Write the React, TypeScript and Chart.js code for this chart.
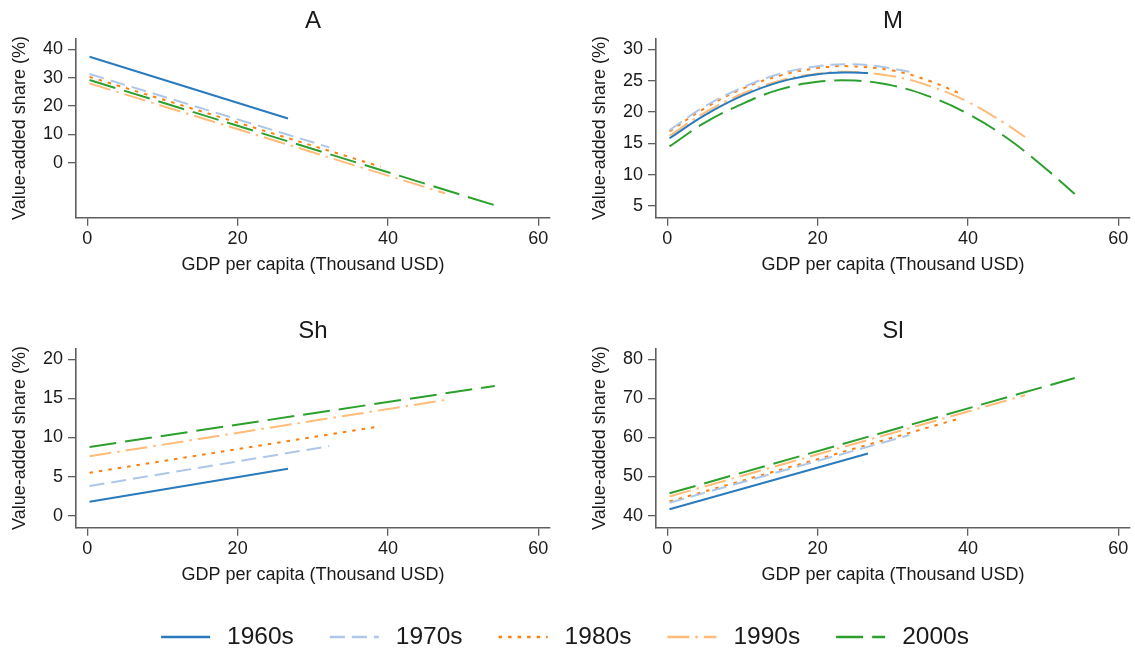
import { useEffect, useRef } from 'react';
import { Chart, registerables } from 'chart.js';

Chart.register(...registerables);

// Decades and their line styles
const DECADES = ['1960s', '1970s', '1980s', '1990s', '2000s'];
const LINE_COLORS = ['#2a7bbd', '#aec7e8', '#ff7f0e', '#ffbb78', '#2ca02c'];
const LINE_DASHES: number[][] = [[], [15, 7], [3.5, 6], [22, 6, 2.5, 6], [27, 9]];

// GDP per capita (thousand USD) range covered by each decade's fitted line
const GDP_1960S = [0.3, 26.7];
const GDP_1970S = [0.3, 32.2];
const GDP_1980S = [0.3, 39.0];
const GDP_1990S = [0.3, 47.6];
const GDP_2000S = [0.3, 54.2];

// Agriculture (A) value-added share, %
const A_1960S = [37.4, 15.6];
const A_1970S = [31.3, 5.4];
const A_1980S = [30.3, -1.4];
const A_1990S = [28.0, -10.8];
const A_2000S = [29.2, -15.0];

// Manufacturing (M) value-added share, % (quadratic fit, sampled along GDP)
const M_GDP_1960S = [0.3, 5, 10, 15, 20, 24, 26.7];
const M_1960S = [15.8, 19.5, 22.6, 24.8, 26.0, 26.3, 26.2];
const M_GDP_1970S = [0.3, 5, 10, 15, 20, 24, 28, 32.2];
const M_1970S = [17.1, 20.9, 23.9, 26.1, 27.3, 27.6, 27.3, 26.4];
const M_GDP_1980S = [0.3, 5, 10, 15, 20, 24, 30, 35, 39.0];
const M_1980S = [16.9, 20.6, 23.7, 25.8, 27.0, 27.3, 26.6, 24.9, 22.9];
const M_GDP_1990S = [0.3, 5, 10, 15, 20, 24, 30, 35, 40, 45, 47.6];
const M_1990S = [16.2, 19.9, 22.9, 25.0, 26.1, 26.4, 25.7, 24.1, 21.6, 18.1, 16.0];
const M_GDP_2000S = [0.3, 5, 10, 15, 20, 25, 30, 35, 40, 45, 50, 54.2];
const M_2000S = [14.5, 18.3, 21.3, 23.6, 24.8, 25.0, 24.2, 22.4, 19.7, 16.0, 11.3, 6.9];

// Skilled services (Sh) value-added share, %
const SH_1960S = [1.8, 6.0];
const SH_1970S = [3.8, 8.9];
const SH_1980S = [5.5, 11.45];
const SH_1990S = [7.6, 14.8];
const SH_2000S = [8.8, 16.6];

// Other services (Sl) value-added share, %
const SL_1960S = [41.6, 55.9];
const SL_1970S = [43.3, 60.6];
const SL_1980S = [43.6, 64.9];
const SL_1990S = [44.9, 70.8];
const SL_2000S = [45.7, 75.2];

// Tick labels
const X_TICKS = [0, 20, 40, 60];
const A_TICKS = [0, 10, 20, 30, 40];
const M_TICKS = [5, 10, 15, 20, 25, 30];
const SH_TICKS = [0, 5, 10, 15, 20];
const SL_TICKS = [40, 50, 60, 70, 80];

const FONT = '"Liberation Sans", Arial, sans-serif';
const TEXT = '#1a1a1a';
const AXIS = '#5f5f5f';

type Series = { x: number[]; y: number[] };

type PanelSpec = {
  title: string;
  left: number;
  top: number;
  width: number;
  series: Series[];
  yMin: number;
  yMax: number;
  yTicks: number[];
  tension: number;
};

const PANEL_HEIGHT = 290;
const Y_AXIS_WIDTH = 76;
const X_AXIS_HEIGHT = 62;
const PLOT_WIDTH = 474;

function Panel({ spec }: { spec: PanelSpec }) {
  const ref = useRef<HTMLCanvasElement | null>(null);
  useEffect(() => {
    if (!ref.current) return;
    const datasets = spec.series.map((s, i) => ({
      label: DECADES[i],
      data: s.x.map((x, k) => ({ x, y: s.y[k] })),
      borderColor: LINE_COLORS[i],
      backgroundColor: LINE_COLORS[i],
      borderDash: LINE_DASHES[i],
      borderWidth: 2,
      pointRadius: 0,
      fill: false,
      tension: spec.tension,
    }));
    const chart = new Chart(ref.current, {
      type: 'line',
      data: { datasets },
      options: {
        animation: false,
        responsive: false,
        events: [],
        layout: {
          padding: {
            left: 0,
            top: 0,
            right: spec.width - Y_AXIS_WIDTH - PLOT_WIDTH,
            bottom: PANEL_HEIGHT - 38.3 - 179.4 - X_AXIS_HEIGHT,
          },
        },
        plugins: {
          legend: { display: false },
          tooltip: { enabled: false },
          title: {
            display: true,
            text: spec.title,
            fullSize: false,
            color: TEXT,
            font: { family: FONT, size: 24, weight: 'normal' },
            padding: { top: 7.3, bottom: 2.2 },
          },
        },
        scales: {
          x: {
            type: 'linear',
            min: -1.5,
            max: 61.55,
            afterBuildTicks: (s: any) => {
              s.ticks = X_TICKS.map((value) => ({ value }));
            },
            afterFit: (s: any) => {
              s.height = X_AXIS_HEIGHT;
            },
            grid: {
              display: true,
              drawOnChartArea: false,
              drawTicks: true,
              tickLength: 8,
              color: AXIS,
              lineWidth: 1.3,
            },
            border: { display: true, color: AXIS, width: 1.6 },
            ticks: {
              color: TEXT,
              font: { family: FONT, size: 18 },
              padding: 3,
              maxRotation: 0,
              autoSkip: false,
            },
            title: {
              display: true,
              text: 'GDP per capita (Thousand USD)',
              color: TEXT,
              font: { family: FONT, size: 18 },
              padding: { top: 0, bottom: 3.9 },
            },
          },
          y: {
            type: 'linear',
            min: spec.yMin,
            max: spec.yMax,
            afterBuildTicks: (s: any) => {
              s.ticks = spec.yTicks.map((value) => ({ value }));
            },
            afterFit: (s: any) => {
              s.width = Y_AXIS_WIDTH;
            },
            grid: {
              display: true,
              drawOnChartArea: false,
              drawTicks: true,
              tickLength: 8,
              color: AXIS,
              lineWidth: 1.3,
            },
            border: { display: true, color: AXIS, width: 1.6 },
            ticks: {
              color: TEXT,
              font: { family: FONT, size: 18 },
              padding: 5,
            },
            title: {
              display: true,
              text: 'Value-added share (%)',
              color: TEXT,
              font: { family: FONT, size: 18 },
              padding: { top: 9.2, bottom: 0 },
            },
          },
        },
      },
    });
    return () => chart.destroy();
  }, [spec]);
  return (
    <canvas
      ref={ref}
      width={spec.width}
      height={PANEL_HEIGHT}
      style={{ position: 'absolute', left: spec.left, top: spec.top }}
    />
  );
}

// Shared legend: one row of line samples and decade labels, centred under the panels
const LEGEND_LINE = 49;
const LEGEND_GAP = 17;
const LEGEND_SPACING = 36;
const LEGEND_FONT_SIZE = 24.5;
const LEGEND_CENTER_X = 565;

const sharedLegend = {
  id: 'sharedLegend',
  afterDraw(chart: any) {
    const ctx: CanvasRenderingContext2D = chart.ctx;
    const items = chart.data.datasets as any[];
    const y = chart.height / 2;
    ctx.save();
    ctx.font = `${LEGEND_FONT_SIZE}px ${FONT}`;
    const widths = items.map((d) => ctx.measureText(d.label).width);
    const total =
      widths.reduce((acc, w) => acc + LEGEND_LINE + LEGEND_GAP + w, 0) +
      LEGEND_SPACING * (items.length - 1);
    let x = LEGEND_CENTER_X - total / 2;
    items.forEach((d, i) => {
      ctx.beginPath();
      ctx.setLineDash(d.borderDash);
      ctx.strokeStyle = d.borderColor;
      ctx.lineWidth = d.borderWidth;
      ctx.moveTo(x, y);
      ctx.lineTo(x + LEGEND_LINE, y);
      ctx.stroke();
      ctx.setLineDash([]);
      ctx.fillStyle = TEXT;
      ctx.textBaseline = 'middle';
      ctx.textAlign = 'left';
      ctx.fillText(d.label, x + LEGEND_LINE + LEGEND_GAP, y);
      x += LEGEND_LINE + LEGEND_GAP + widths[i] + LEGEND_SPACING;
    });
    ctx.restore();
  },
};

function Legend() {
  const ref = useRef<HTMLCanvasElement | null>(null);
  useEffect(() => {
    if (!ref.current) return;
    const chart = new Chart(ref.current, {
      type: 'line',
      data: {
        datasets: DECADES.map((label, i) => ({
          label,
          data: [],
          borderColor: LINE_COLORS[i],
          backgroundColor: LINE_COLORS[i],
          borderDash: LINE_DASHES[i],
          borderWidth: 2.5,
        })),
      },
      options: {
        animation: false,
        responsive: false,
        events: [],
        scales: { x: { display: false }, y: { display: false } },
        plugins: {
          tooltip: { enabled: false },
          legend: { display: false },
        },
      },
      plugins: [sharedLegend],
    });
    return () => chart.destroy();
  }, []);
  return (
    <canvas
      ref={ref}
      width={1135}
      height={54}
      style={{ position: 'absolute', left: 0, top: 610 }}
    />
  );
}

const PANELS: PanelSpec[] = [
  {
    title: 'A',
    left: 0,
    top: 0,
    width: 560,
    series: [
      { x: GDP_1960S, y: A_1960S },
      { x: GDP_1970S, y: A_1970S },
      { x: GDP_1980S, y: A_1980S },
      { x: GDP_1990S, y: A_1990S },
      { x: GDP_2000S, y: A_2000S },
    ],
    yMin: -19.4,
    yMax: 43.9,
    yTicks: A_TICKS,
    tension: 0,
  },
  {
    title: 'M',
    left: 580,
    top: 0,
    width: 555,
    series: [
      { x: M_GDP_1960S, y: M_1960S },
      { x: M_GDP_1970S, y: M_1970S },
      { x: M_GDP_1980S, y: M_1980S },
      { x: M_GDP_1990S, y: M_1990S },
      { x: M_GDP_2000S, y: M_2000S },
    ],
    yMin: 3.13,
    yMax: 31.75,
    yTicks: M_TICKS,
    tension: 0.4,
  },
  {
    title: 'Sh',
    left: 0,
    top: 310,
    width: 560,
    series: [
      { x: GDP_1960S, y: SH_1960S },
      { x: GDP_1970S, y: SH_1970S },
      { x: GDP_1980S, y: SH_1980S },
      { x: GDP_1990S, y: SH_1990S },
      { x: GDP_2000S, y: SH_2000S },
    ],
    yMin: -1.53,
    yMax: 21.41,
    yTicks: SH_TICKS,
    tension: 0,
  },
  {
    title: 'Sl',
    left: 580,
    top: 310,
    width: 555,
    series: [
      { x: GDP_1960S, y: SL_1960S },
      { x: GDP_1970S, y: SL_1970S },
      { x: GDP_1980S, y: SL_1980S },
      { x: GDP_1990S, y: SL_1990S },
      { x: GDP_2000S, y: SL_2000S },
    ],
    yMin: 36.9,
    yMax: 82.8,
    yTicks: SL_TICKS,
    tension: 0,
  },
];

export default function App() {
  return (
    <div
      style={{
        position: 'absolute',
        left: 0,
        top: 0,
        width: 1135,
        height: 654,
        background: '#ffffff',
        overflow: 'hidden',
      }}
    >
      {PANELS.map((p) => (
        <Panel key={p.title} spec={p} />
      ))}
      <Legend />
    </div>
  );
}
